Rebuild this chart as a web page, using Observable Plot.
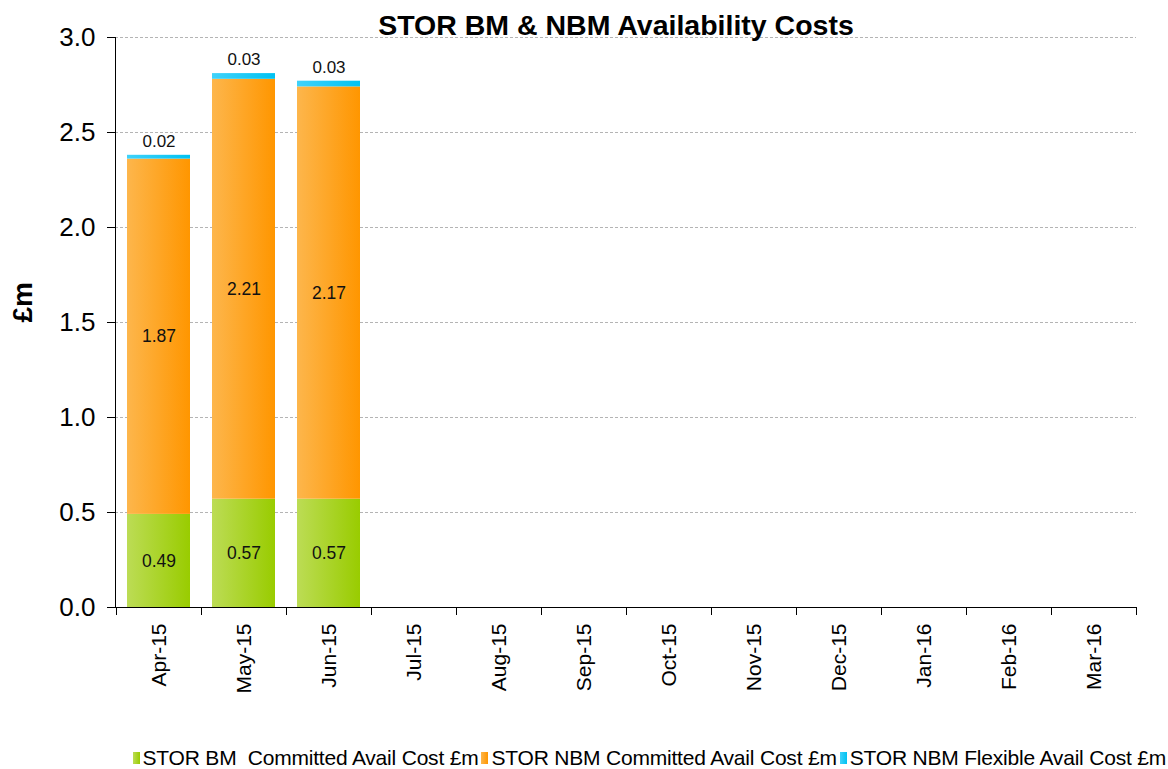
<!DOCTYPE html>
<html>
<head>
<meta charset="utf-8">
<script src="https://cdn.jsdelivr.net/npm/d3@7"></script>
<script src="https://cdn.jsdelivr.net/npm/@observablehq/plot@0.6"></script>
<style>
  html, body { margin: 0; padding: 0; background: #fff; }
  body { width: 1168px; height: 769px; overflow: hidden; font-family: "Liberation Sans", Arial, sans-serif; }
  #legend { display: flex; justify-content: flex-end; align-items: center; padding-right: 2px; height: 22px; font-size: 21px; color: #000; white-space: pre; letter-spacing: -0.2px; }
  #legend .item { display: flex; align-items: center; margin-left: 3px; }
  #legend .sw { width: 7px; height: 12px; margin-right: 3px; }
</style>
</head>
<body>
<div id="chart"></div>
<div id="legend"></div>
<script>
const months = ["Apr-15","May-15","Jun-15","Jul-15","Aug-15","Sep-15","Oct-15","Nov-15","Dec-15","Jan-16","Feb-16","Mar-16"];
const seriesNames = ["STOR BM  Committed Avail Cost £m","STOR NBM Committed Avail Cost £m","STOR NBM Flexible Avail Cost £m"];
const bmCommitted = [0.49, 0.57, 0.57];
const nbmCommitted = [1.87, 2.21, 2.17];
const nbmFlexible = [0.02, 0.03, 0.03];
const yTicks = [0, 0.5, 1.0, 1.5, 2.0, 2.5, 3.0];
const gradIds = ["gGreen","gOrange","gBlue"];
const gradStops = [["#bcdc55","#99cc00"],["#fdb64c","#ff9600"],["#40d2fa","#00c2f2"]];
const title = "STOR BM & NBM Availability Costs";
const yLabel = "£m";

const seriesValues = [bmCommitted, nbmCommitted, nbmFlexible];
const table = [];
seriesValues.forEach((vals, si) => {
  vals.forEach((v, i) => table.push({month: months[i], series: seriesNames[si], value: v, fill: `url(#${gradIds[si]})`}));
});
const fmt = d3.format(".2f");

function frameLines(index, scales, values, dims) {
  const g = d3.create("svg:g");
  const x = scales.x, y = scales.y;
  const step = x(months[1]) - x(months[0]);
  const bw = x.bandwidth ? x.bandwidth() : step * 0.74;
  const gap = (step - bw) / 2;
  const y0 = y(0);
  g.append("line").attr("x1", dims.marginLeft + 0.5).attr("x2", dims.marginLeft + 0.5)
    .attr("y1", y(3)).attr("y2", y0).attr("stroke", "#000");
  const bounds = months.map(m => x(m) - gap).concat([x(months[months.length - 1]) + bw + gap]);
  bounds.forEach(b => {
    g.append("line").attr("x1", Math.round(b) + 0.5).attr("x2", Math.round(b) + 0.5)
      .attr("y1", y0).attr("y2", y0 + 8).attr("stroke", "#000");
  });
  return g.node();
}

const plot = Plot.plot({
  width: 1168,
  height: 747,
  marginLeft: 115,
  marginRight: 32,
  marginTop: 37,
  marginBottom: 140,
  style: {fontFamily: '"Liberation Sans", Arial, sans-serif', color: "#000", background: "#fff"},
  x: {domain: months, paddingInner: 0.26, paddingOuter: 0.13, label: null},
  y: {domain: [0, 3], label: null},
  marks: [
    Plot.gridY(yTicks.filter(d => d > 0), {stroke: "#b4b4b4", strokeOpacity: 1, strokeDasharray: "3,2"}),
    Plot.barY(table, {x: "month", y: "value", fill: "fill", order: null}),
    Plot.text(table, Plot.stackY({x: "month", y: "value", order: null,
      text: d => d.series === seriesNames[2] ? "" : fmt(d.value), fontSize: 17.5, fill: "#111"})),
    Plot.text(table, Plot.stackY2({x: "month", y: "value", order: null,
      text: d => d.series === seriesNames[2] ? fmt(d.value) : "", fontSize: 17, fill: "#111", dy: -14})),
    Plot.ruleY([0], {stroke: "#000"}),
    Plot.axisY({ticks: yTicks, tickFormat: d3.format(".1f"), tickSize: 8, tickPadding: 12, fontSize: 26, label: null}),
    Plot.axisX({tickSize: 0, tickRotate: -90, tickPadding: 16, fontSize: 21, label: null}),
    frameLines,
    Plot.text([yLabel], {frameAnchor: "left", dx: -92, rotate: -90, fontSize: 28, fontWeight: "bold"}),
    Plot.text([title], {frameAnchor: "top", lineAnchor: "middle", dy: -12, dx: -10, fontSize: 28.5, fontWeight: "bold"})
  ]
});

const defs = d3.select(plot).insert("defs", ":first-child");
gradIds.forEach((id, i) => {
  const lg = defs.append("linearGradient").attr("id", id).attr("x1", 0).attr("x2", 1).attr("y1", 0).attr("y2", 0);
  lg.append("stop").attr("offset", "0%").attr("stop-color", gradStops[i][0]);
  lg.append("stop").attr("offset", "100%").attr("stop-color", gradStops[i][1]);
});
document.getElementById("chart").appendChild(plot);

const legend = d3.select("#legend");
seriesNames.forEach((name, i) => {
  const item = legend.append("div").attr("class", "item");
  item.append("div").attr("class", "sw").style("background", `linear-gradient(to right, ${gradStops[i][0]}, ${gradStops[i][1]})`);
  item.append("span").text(name);
});
</script>
</body>
</html>
